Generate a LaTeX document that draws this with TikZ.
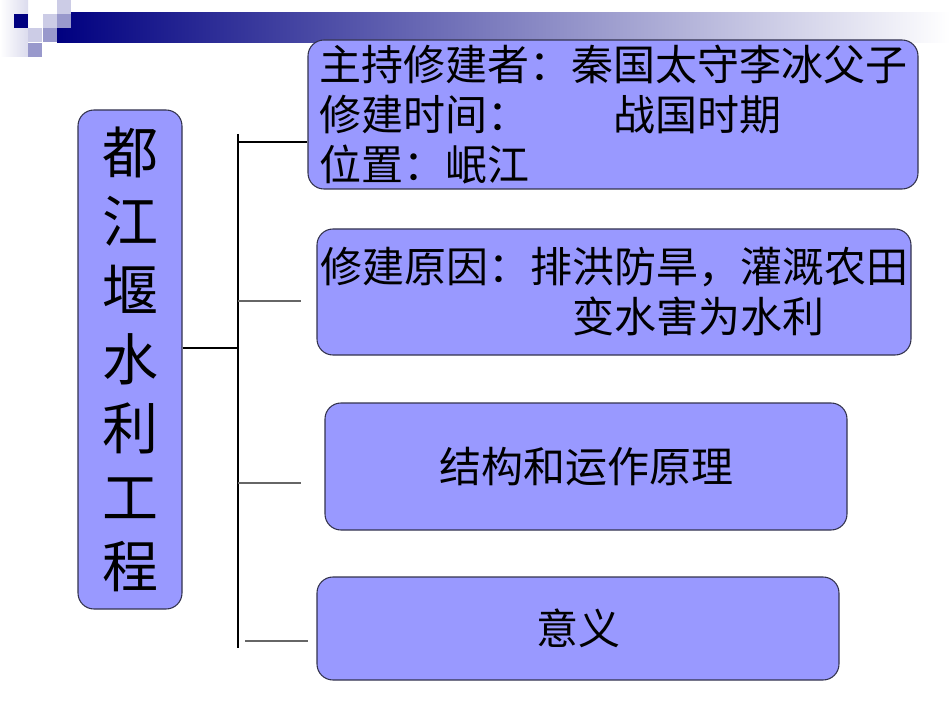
\documentclass[tikz,border=0pt]{standalone}
\usepackage{fontspec}
\setmainfont{Noto Sans CJK SC}
\definecolor{boxfill}{HTML}{9999FF}
\definecolor{boxline}{HTML}{33334D}
\definecolor{navy}{HTML}{000080}
\definecolor{paleSq}{HTML}{CCCCE6}
\definecolor{midSq}{HTML}{9999CC}
\tikzset{
  box/.style={draw=boxline, fill=boxfill, rounded corners=12pt, line width=0.8pt},
  stem/.style={line width=0.8pt, draw=black},
  twig/.style={line width=0.8pt, draw=gray!80!black}
}
\begin{document}
\begin{tikzpicture}[x=0.75pt,y=-0.75pt]
  \useasboundingbox (0,0) rectangle (950,713);
  % header decoration
  \fill[left color=white, right color=paleSq!70] (0,0) rectangle (28,57);
  \fill[left color=navy, right color=white] (57,13) rectangle (950,43);
  \fill[navy] (14,14) rectangle ++(14,14);
  \foreach \x/\y in {43/14, 57/0, 28/28}
    \fill[paleSq] (\x,\y) rectangle ++(14,14);
  \foreach \x/\y in {57/14, 43/28, 28/43}
    \fill[midSq] (\x,\y) rectangle ++(14,14);

  % boxes
  \node[box, minimum width=78pt, minimum height=374.25pt, align=center,
        font=\fontsize{42}{51.75}\selectfont] (title) at (130,359.5)
        {都\\江\\堰\\水\\利\\工\\程};
  \node[box, minimum height=111.75pt, text width=441pt, inner xsep=8.25pt, align=left,
        font=\fontsize{31.5}{37.5}\selectfont] (who) at (613,114.5)
        {主持修建者：秦国太守李冰父子\\修建时间：\hspace*{2em}战国时期\\位置：岷江};
  \node[box, minimum height=94.5pt, text width=441pt, inner xsep=2.25pt, align=left,
        font=\fontsize{31.5}{37.5}\selectfont] (why) at (614,292)
        {修建原因：排洪防旱，灌溉农田\\\hspace*{6em}变水害为水利};
  \node[box, minimum width=391.5pt, minimum height=95.25pt,
        font=\fontsize{31.5}{37.5}\selectfont] (how) at (586,466.5) {结构和运作原理};
  \node[box, minimum width=391.5pt, minimum height=77.25pt,
        font=\fontsize{31.5}{37.5}\selectfont] (worth) at (578,628.5) {意义};

  % connectors
  \coordinate (top) at (238,134);
  \coordinate (bot) at (238,648);
  \coordinate (mid) at (238,348);
  \coordinate (b1) at (238,142);
  \coordinate (b2) at (238,301);
  \coordinate (e2) at (301,301);
  \coordinate (b3) at (238,483);
  \coordinate (e3) at (301,483);
  \coordinate (b4) at (245,641);
  \coordinate (e4) at (308,641);
  \draw[stem] (top) -- (bot);
  \draw[stem] (mid -| title.east) -- (mid);
  \draw[stem] (b1) -- (b1 -| who.west);
  \draw[twig] (b2) -- (e2);
  \draw[twig] (b3) -- (e3);
  \draw[twig] (b4) -- (e4);
\end{tikzpicture}
\end{document}
